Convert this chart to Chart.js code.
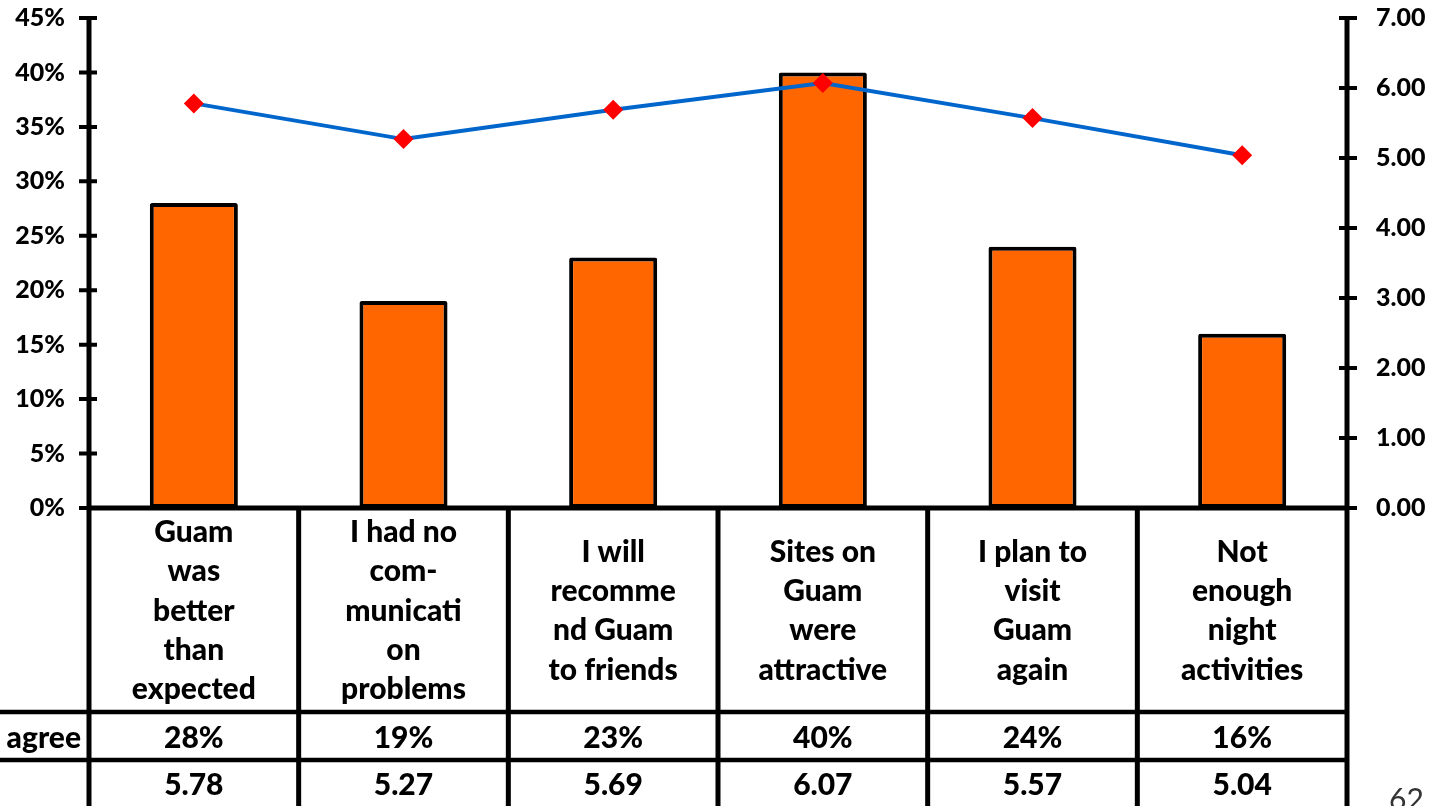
<!DOCTYPE html>
<html>
<head>
<meta charset="utf-8">
<title>Guam visitor survey</title>
<script src="https://cdn.jsdelivr.net/npm/chart.js@4"></script>
<style>
  html, body { margin: 0; padding: 0; background: #fff; }
  canvas { display: block; }
</style>
</head>
<body>
<canvas id="surveyChart" width="1433" height="806"></canvas>
<script>
// survey statements, one per column
const statements = [
    ['Guam', 'was', 'better', 'than', 'expected'],
    ['I had no', 'com-', 'municati', 'on', 'problems'],
    ['I will', 'recomme', 'nd Guam', 'to friends'],
    ['Sites on', 'Guam', 'were', 'attractive'],
    ['I plan to', 'visit', 'Guam', 'again'],
    ['Not', 'enough', 'night', 'activities']
];
// share answering "strongly agree" (%)
const stronglyAgree = [28, 19, 23, 40, 24, 16];
// mean score on a 7 point scale
const meanScore = [5.78, 5.27, 5.69, 6.07, 5.57, 5.04];

const FONT = 'Lato, "DejaVu Sans", sans-serif';

// draws the axis lines, tick crosses and the data table under the chart
const surveyTable = {
    id: 'surveyTable',
    afterDraw(chart) {
        const ctx = chart.ctx;
        const area = chart.chartArea;
        const x = chart.scales.x;
        const y = chart.scales.y;
        const y1 = chart.scales.y1;
        const H = chart.height;
        const colW = (area.right - area.left) / statements.length;
        const row1 = 712, row2 = 760;

        ctx.save();
        ctx.strokeStyle = '#000';
        ctx.lineCap = 'butt';

        // axis lines and table grid
        ctx.lineWidth = 5;
        ctx.beginPath();
        ctx.moveTo(area.left, area.top);
        ctx.lineTo(area.left, H);
        ctx.moveTo(area.right, area.top);
        ctx.lineTo(area.right, H);
        ctx.moveTo(area.left - 2, area.bottom);
        ctx.lineTo(area.right + 2, area.bottom);
        for (let i = 0; i < statements.length - 1; i++) {
            const bx = x.getPixelForValue(i) + colW / 2;
            ctx.moveTo(bx, area.bottom);
            ctx.lineTo(bx, H);
        }
        ctx.stroke();

        ctx.lineWidth = 4.5;
        ctx.beginPath();
        ctx.moveTo(0, row1);
        ctx.lineTo(area.right + 2, row1);
        ctx.moveTo(0, row2);
        ctx.lineTo(area.right + 2, row2);
        ctx.stroke();

        // tick crosses on both value axes
        ctx.lineWidth = 4;
        ctx.beginPath();
        y.ticks.forEach(t => {
            const py = y.getPixelForValue(t.value);
            ctx.moveTo(area.left - 10, py);
            ctx.lineTo(area.left + 8, py);
        });
        y1.ticks.forEach(t => {
            const py = y1.getPixelForValue(t.value);
            ctx.moveTo(area.right - 8, py);
            ctx.lineTo(area.right + 10, py);
        });
        ctx.stroke();

        // statement labels, centred in each cell
        ctx.fillStyle = '#000';
        ctx.textAlign = 'center';
        ctx.textBaseline = 'middle';
        ctx.font = '900 30px ' + FONT;
        const lineH = 39.3;
        const midY = (area.bottom + row1) / 2 + 1;
        statements.forEach((lines, i) => {
            const cx = x.getPixelForValue(i);
            const top = midY - (lines.length - 1) * lineH / 2;
            lines.forEach((s, k) => ctx.fillText(s, cx, top + k * lineH));
        });

        // value rows
        stronglyAgree.forEach((v, i) => {
            ctx.fillText(v + '%', x.getPixelForValue(i), 738);
        });
        meanScore.forEach((v, i) => {
            ctx.fillText(v.toFixed(2), x.getPixelForValue(i), 785);
        });

        ctx.textAlign = 'right';
        ctx.fillText('Strongly agree', area.left - 8, 738);

        // page number
        ctx.textAlign = 'left';
        ctx.textBaseline = 'top';
        ctx.font = '30px ' + FONT;
        ctx.fillStyle = '#333';
        ctx.fillText('62', 1389, 785);
        ctx.restore();
    }
};

// fixed side widths so the plot sits between x=89 and x=1347
function fixWidth(w) {
    return function(scale) {
        scale.width = w;
        scale.paddingTop = 0;
        scale.paddingBottom = 0;
    };
}

const ctx = document.getElementById('surveyChart').getContext('2d');
new Chart(ctx, {
    data: {
        labels: statements.map(l => l.join(' ')),
        datasets: [
            {
                type: 'line',
                label: 'Mean',
                data: meanScore,
                yAxisID: 'y1',
                order: 0,
                borderColor: '#0066CC',
                borderWidth: 4,
                tension: 0,
                pointStyle: 'rectRot',
                pointRadius: 10,
                pointBackgroundColor: '#FF0000',
                pointBorderColor: '#FF0000',
                pointBorderWidth: 0
            },
            {
                type: 'bar',
                label: 'Strongly agree',
                data: stronglyAgree,
                yAxisID: 'y',
                order: 1,
                backgroundColor: '#FF6600',
                borderColor: '#000',
                borderWidth: 4,
                borderSkipped: false,
                borderRadius: 2,
                categoryPercentage: 1,
                barPercentage: 0.42
            }
        ]
    },
    options: {
        responsive: false,
        animation: false,
        layout: { padding: { top: 18, left: 0, right: 0, bottom: 0 } },
        plugins: {
            legend: { display: false },
            tooltip: { enabled: false }
        },
        scales: {
            x: {
                grid: { display: false },
                border: { display: false },
                ticks: { display: false },
                afterFit(scale) { scale.height = 298; }
            },
            y: {
                position: 'left',
                min: 0,
                max: 45,
                grid: { display: false },
                border: { display: false },
                ticks: {
                    stepSize: 5,
                    padding: 16,
                    color: '#000',
                    font: { family: FONT, size: 25, weight: '900' },
                    callback: v => v + '%'
                },
                afterFit: fixWidth(89)
            },
            y1: {
                position: 'right',
                min: 0,
                max: 7,
                grid: { display: false },
                border: { display: false },
                ticks: {
                    stepSize: 1,
                    padding: 21,
                    color: '#000',
                    font: { family: FONT, size: 25, weight: '900' },
                    callback: v => v.toFixed(2)
                },
                afterFit: fixWidth(86)
            }
        }
    },
    plugins: [surveyTable]
});
</script>
</body>
</html>
